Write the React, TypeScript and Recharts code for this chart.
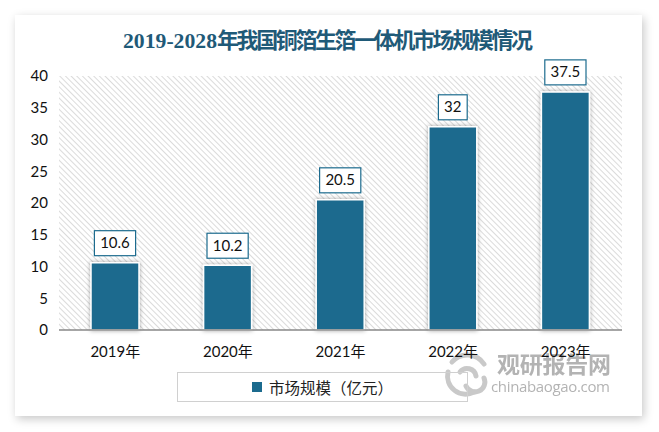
import React from 'react';
import { BarChart, Bar, XAxis, YAxis, CartesianGrid, LabelList } from 'recharts';

const categories = ['2019年', '2020年', '2021年', '2022年', '2023年'];
const marketSize = [10.6, 10.2, 20.5, 32, 37.5];
const yTicks = [0, 5, 10, 15, 20, 25, 30, 35, 40];
const titleLatin = '2019-2028';
const titleCjk = '年我国铜箔生箔一体机市场规模情况';
const legendText = '市场规模（亿元）';

const data = categories.map((c, i) => ({ name: c, value: marketSize[i] }));

const BAR_COLOR = '#1c6b8e';
const FONT = 'Lato, "Noto Sans CJK SC", sans-serif';

const textWidth = (s: string) => {
  let w = 0;
  for (const ch of s) w += ch === '.' ? 4 : 8.4;
  return w;
};

const BoxLabel = (props: any) => {
  const { x, y, width, value } = props;
  const s = String(value);
  const w = textWidth(s) + 12;
  const h = 25;
  const cx = x + width / 2;
  const bottom = y - 7;
  return (
    <g>
      <rect x={cx - w / 2} y={bottom - h} width={w} height={h} fill="#fff" stroke={BAR_COLOR} strokeWidth={1.2} />
      <text x={cx} y={bottom - h / 2 + 5} textAnchor="middle" fontSize={15} fontFamily={FONT} fill="#111">
        {s}
      </text>
    </g>
  );
};

export default function App() {
  return (
    <div style={{ position: 'fixed', left: 0, top: 0, width: 659, height: 432, background: '#fff', overflow: 'hidden' }}>
      <div
        style={{
          position: 'absolute',
          left: 15,
          top: 15,
          width: 627,
          height: 401,
          background: '#fff',
          boxShadow: '2px 3px 9px rgba(0,0,0,0.22)',
        }}
      />
      {/* watermark */}
      <svg style={{ position: 'absolute', left: 0, top: 0 }} width={659} height={432}>
        <g opacity={0.75}>
          <g fill="none" stroke="#b8b8b8" strokeWidth={5} strokeLinecap="round">
            <path d="M 452 362 A 20 20 0 0 1 484 364" />
            <path d="M 448 372 A 18 18 0 0 0 474 392" />
            <path d="M 460 372 A 9 9 0 0 1 476 376" />
            <path d="M 466 386 A 9 9 0 0 0 484 378" />
          </g>
          <text x={497} y={373} fontSize={23} fontWeight="bold" fontFamily='"Noto Sans CJK SC", sans-serif' fill="#9a9a9a" textLength={114}>
            观研报告网
          </text>
          <text x={491} y={392} fontSize={15} fontFamily='"Open Sans", sans-serif' fill="#9a9a9a" textLength={119}>
            chinabaogao.com
          </text>
        </g>
      </svg>
      <div style={{ position: 'absolute', left: 0, top: 0 }}>
        <BarChart
          width={659}
          height={432}
          data={data}
          margin={{ top: 76, right: 37, bottom: 72, left: 0 }}
          barSize={48}
        >
          <defs>
            <pattern id="hatch" width="4" height="4" patternUnits="userSpaceOnUse" patternTransform="rotate(-45)">
              <rect width="4" height="4" fill="#ffffff" />
              <line x1="0" y1="0" x2="0" y2="4" stroke="#c4c4c4" strokeWidth="1.2" />
            </pattern>
            <filter id="shadow" x="-30%" y="-30%" width="160%" height="160%">
              <feDropShadow dx="0" dy="0" stdDeviation="2.2" floodColor="#000" floodOpacity="0.35" />
            </filter>
          </defs>
          <CartesianGrid horizontal={false} vertical={false} fill="url(#hatch)" stroke="none" />
          <XAxis
            dataKey="name"
            axisLine={{ stroke: '#898989', strokeWidth: 1.5 }}
            tickLine={false}
            tickMargin={10}
            height={30}
            tick={{ fontSize: 15, fill: '#111', fontFamily: FONT }}
          />
          <YAxis
            width={59}
            domain={[0, 40]}
            ticks={yTicks}
            axisLine={false}
            tickLine={false}
            tickMargin={5}
            interval={0}
            tick={{ fontSize: 15, fill: '#111', fontFamily: FONT }}
          />
          <Bar dataKey="value" fill={BAR_COLOR} stroke="#fff" strokeWidth={1.5} filter="url(#shadow)" isAnimationActive={false}>
            <LabelList dataKey="value" content={BoxLabel} />
          </Bar>
        </BarChart>
      </div>
      {/* title */}
      <svg style={{ position: 'absolute', left: 0, top: 0, pointerEvents: 'none' }} width={659} height={70}>
        <text y={48} fill="#1f5a78">
          <tspan x={123} fontSize={22} fontWeight="bold" fontFamily='"Liberation Serif", serif' textLength={94} lengthAdjust="spacingAndGlyphs">
            {titleLatin}
          </tspan>
          <tspan
            x={217}
            fontSize={22}
            fontWeight={600}
            fontFamily='"Noto Sans CJK SC", sans-serif'
            textLength={316}
            lengthAdjust="spacing"
          >
            {titleCjk}
          </tspan>
        </text>
      </svg>
      {/* legend */}
      <div
        style={{
          position: 'absolute',
          left: 177,
          top: 372,
          width: 291,
          height: 30,
          border: '1px solid #d0d0d0',
          boxSizing: 'border-box',
          display: 'flex',
          alignItems: 'center',
          justifyContent: 'center',
          fontFamily: '"Noto Sans CJK SC", sans-serif',
          fontSize: 15.5,
          color: '#222',
        }}
      >
        <span style={{ display: 'inline-block', width: 10, height: 10, background: BAR_COLOR, marginRight: 7 }} />
        <span>{legendText}</span>
      </div>
    </div>
  );
}
